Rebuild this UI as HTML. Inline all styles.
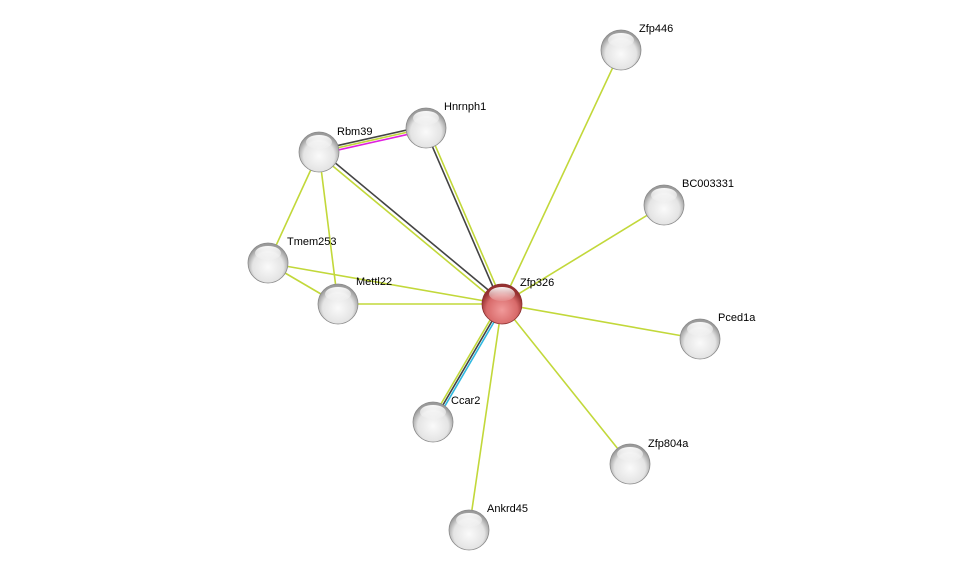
<!DOCTYPE html>
<html><head><style>body{margin:0;background:#fff}svg{display:block}text{font-family:"Liberation Sans",sans-serif;font-size:11px;fill:#000}</style></head>
<body>
<svg width="976" height="575" viewBox="0 0 976 575">
<defs>
<radialGradient id="g" cx="50%" cy="60%" r="55%"><stop offset="0" stop-color="#fafafa"/><stop offset="0.7" stop-color="#e4e4e4"/><stop offset="1" stop-color="#9a9a9a"/></radialGradient>
<radialGradient id="r" cx="50%" cy="65%" r="55%"><stop offset="0" stop-color="#f19a9a"/><stop offset="0.7" stop-color="#d86a6a"/><stop offset="1" stop-color="#963030"/></radialGradient>
<linearGradient id="h" x1="0" y1="0" x2="0" y2="1"><stop offset="0" stop-color="#fff" stop-opacity="0.95"/><stop offset="1" stop-color="#fff" stop-opacity="0.1"/></linearGradient>
<g id="n"><circle r="20" fill="url(#g)" stroke="#8a8a8a" stroke-width="0.8"/><ellipse cx="0" cy="-10" rx="13" ry="7" fill="url(#h)"/></g>
</defs>
<g stroke="#c2d83a" stroke-width="1.6" fill="none">
<line x1="502" y1="304" x2="621" y2="50"/>
<line x1="502" y1="304" x2="664" y2="205"/>
<line x1="502" y1="304" x2="700" y2="339"/>
<line x1="502" y1="304" x2="630" y2="464"/>
<line x1="502" y1="304" x2="469" y2="530"/>
<line x1="502" y1="304" x2="268" y2="263"/>
<line x1="502" y1="304" x2="338" y2="304"/>
<line x1="319" y1="152" x2="268" y2="263"/>
<line x1="319" y1="152" x2="338" y2="304"/>
<line x1="268" y1="263" x2="338" y2="304"/>
</g>
<!-- Ccar2 -->
<line x1="431.1" y1="420.9" x2="500.1" y2="302.9" stroke="#c2d83a" stroke-width="1.6"/>
<line x1="433" y1="422" x2="502" y2="304" stroke="#444" stroke-width="1.6"/>
<line x1="434.9" y1="423.1" x2="503.9" y2="305.1" stroke="#2fb8e0" stroke-width="1.6"/>
<!-- Rbm39-Zfp326 -->
<line x1="320.3" y1="150.5" x2="503.3" y2="302.5" stroke="#444" stroke-width="1.6"/>
<line x1="317.7" y1="153.5" x2="500.7" y2="305.5" stroke="#c2d83a" stroke-width="1.6"/>
<!-- Hnrnph1-Zfp326 -->
<line x1="424.6" y1="128.6" x2="500.6" y2="304.6" stroke="#444" stroke-width="1.6"/>
<line x1="427.4" y1="127.4" x2="503.4" y2="303.4" stroke="#c2d83a" stroke-width="1.6"/>
<!-- Rbm39-Hnrnph1 -->
<line x1="318.5" y1="149.8" x2="425.5" y2="125.8" stroke="#444" stroke-width="1.6"/>
<line x1="319" y1="152" x2="426" y2="128" stroke="#c2d83a" stroke-width="1.6"/>
<line x1="319.5" y1="154.2" x2="426.5" y2="130.2" stroke="#e020e0" stroke-width="1.6"/>
<use href="#n" x="621" y="50"/>
<use href="#n" x="426" y="128"/>
<use href="#n" x="319" y="152"/>
<use href="#n" x="664" y="205"/>
<use href="#n" x="268" y="263"/>
<use href="#n" x="338" y="304"/>
<use href="#n" x="700" y="339"/>
<use href="#n" x="433" y="422"/>
<use href="#n" x="630" y="464"/>
<use href="#n" x="469" y="530"/>
<circle cx="502" cy="304" r="20" fill="url(#r)" stroke="#8a3030" stroke-width="0.8"/>
<ellipse cx="502" cy="294" rx="13" ry="7" fill="url(#h)"/>
<text x="639" y="32">Zfp446</text>
<text x="444" y="110">Hnrnph1</text>
<text x="337" y="135">Rbm39</text>
<text x="682" y="187">BC003331</text>
<text x="287" y="245">Tmem253</text>
<text x="520" y="286">Zfp326</text>
<text x="356" y="285">Mettl22</text>
<text x="718" y="321">Pced1a</text>
<text x="451" y="404">Ccar2</text>
<text x="648" y="447">Zfp804a</text>
<text x="487" y="512">Ankrd45</text>
</svg>
</body></html>
